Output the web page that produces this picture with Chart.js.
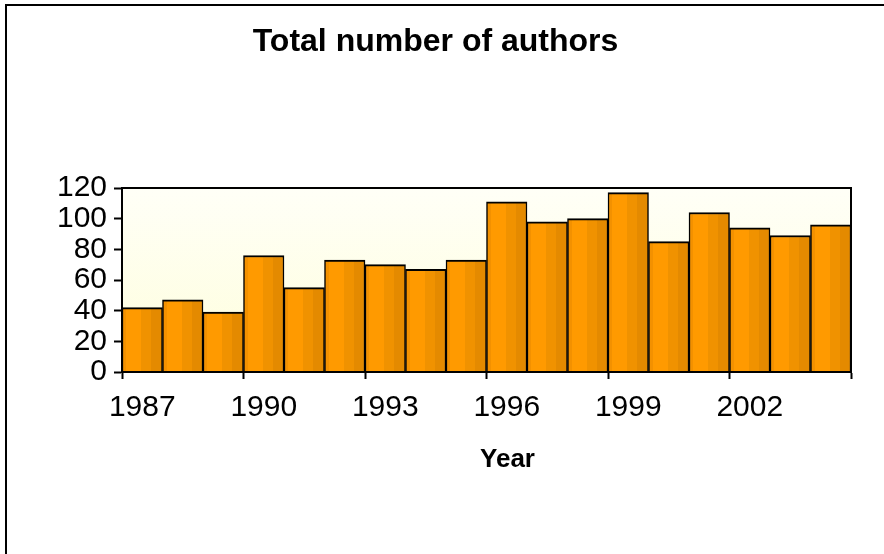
<!DOCTYPE html>
<html>
<head>
<meta charset="utf-8">
<title>Total number of authors</title>
<script src="https://cdn.jsdelivr.net/npm/chart.js@4/dist/chart.umd.min.js"></script>
<style>
  html, body { margin: 0; padding: 0; background: #fff; }
  canvas { display: block; }
</style>
</head>
<body>
<canvas id="authorsChart" width="884" height="554"></canvas>
<script>
// Yearly totals
const years = ['1987', '1988', '1989', '1990', '1991', '1992', '1993', '1994', '1995',
               '1996', '1997', '1998', '1999', '2000', '2001', '2002', '2003', '2004'];
const authors = [42, 47, 39, 76, 55, 73, 70, 67, 73, 111, 98, 100, 117, 85, 104, 94, 89, 96];
const yTickValues = [0, 20, 40, 60, 80, 100, 120];
const chartTitle = 'Total number of authors';
const xAxisTitle = 'Year';

const FONT = '"Liberation Sans", Arial, Helvetica, sans-serif';
const LABEL_EVERY = 3;

// Vertical banded orange fill for one bar, spanning its category slot
function barFill(ctx) {
  const chart = ctx.chart;
  const xs = chart.scales && chart.scales.x;
  if (!xs || ctx.dataIndex === undefined || !isFinite(xs.width) || xs.width <= 0) return '#FF9A00';
  const cx = xs.getPixelForValue(ctx.dataIndex);
  const half = xs.width / years.length / 2;
  const g = chart.ctx.createLinearGradient(cx - half, 0, cx + half, 0);
  const bands = [
    [0.00, 0.10, '#F39100'],
    [0.10, 0.47, '#FF9A00'],
    [0.47, 0.72, '#F09200'],
    [0.72, 1.00, '#E48A00']
  ];
  bands.forEach(([a, b, c]) => { g.addColorStop(a, c); g.addColorStop(b, c); });
  return g;
}

const decor = {
  id: 'decor',
  beforeDraw(chart) {
    const { ctx, chartArea: a } = chart;
    ctx.save();
    // outer frame: top and left edges
    ctx.fillStyle = '#000';
    ctx.fillRect(5, 4, chart.width - 5, 2);
    ctx.fillRect(5, 4, 2, chart.height - 4);
    // plot background, pale yellow towards the base
    const g = ctx.createLinearGradient(0, a.top, 0, a.bottom);
    g.addColorStop(0, '#FFFFF7');
    g.addColorStop(1, '#FEFEDC');
    ctx.fillStyle = g;
    ctx.fillRect(a.left, a.top, a.width, a.height);
    // headings
    ctx.fillStyle = '#000';
    ctx.textAlign = 'center';
    ctx.textBaseline = 'middle';
    ctx.font = 'bold 32px ' + FONT;
    ctx.fillText(chartTitle, 435.5, 42);
    ctx.font = 'bold 26px ' + FONT;
    ctx.fillText(xAxisTitle, 507.5, 460);
    ctx.restore();
  },
  afterDatasetsDraw(chart) {
    const { ctx, chartArea: a } = chart;
    ctx.save();
    ctx.strokeStyle = '#000';
    ctx.lineWidth = 2;
    ctx.strokeRect(a.left, a.top, a.width, a.height);
    ctx.restore();
  }
};

new Chart(document.getElementById('authorsChart'), {
  type: 'bar',
  data: {
    labels: years,
    datasets: [{
      label: chartTitle,
      data: authors,
      backgroundColor: barFill,
      borderColor: '#000',
      borderWidth: { top: 2, left: 1.5, right: 1.5, bottom: 0 },
      borderSkipped: 'start',
      barPercentage: 1,
      categoryPercentage: 1
    }]
  },
  options: {
    responsive: false,
    animation: false,
    devicePixelRatio: 1,
    layout: { padding: { top: 188, right: 33, bottom: 0, left: 0 } },
    plugins: {
      legend: { display: false },
      title: { display: false },
      tooltip: { enabled: false }
    },
    scales: {
      x: {
        grid: {
          offset: true,
          drawOnChartArea: false,
          drawTicks: true,
          tickLength: 7,
          tickWidth: 2,
          tickColor: (c) => (c.index === undefined || c.index % LABEL_EVERY === 0) ? '#000' : 'rgba(0,0,0,0)'
        },
        border: { color: '#000', width: 2 },
        ticks: {
          autoSkip: false,
          maxRotation: 0,
          minRotation: 0,
          padding: 11,
          color: '#000',
          font: { family: FONT, size: 30 },
          callback: (v, i) => (i % LABEL_EVERY === 0 ? years[i] : '')
        },
        afterFit: (s) => { s.height = 182; }
      },
      y: {
        min: 0,
        max: 120,
        afterBuildTicks: (s) => { s.ticks = yTickValues.map(v => ({ value: v })); },
        grid: {
          drawOnChartArea: false,
          drawTicks: true,
          tickLength: 8,
          tickWidth: 2,
          tickColor: '#000'
        },
        border: { color: '#000', width: 2 },
        ticks: {
          autoSkip: false,
          padding: 7,
          color: '#000',
          font: { family: FONT, size: 30 }
        },
        afterFit: (s) => { s.width = 122; }
      }
    }
  },
  plugins: [decor]
});
</script>
</body>
</html>
